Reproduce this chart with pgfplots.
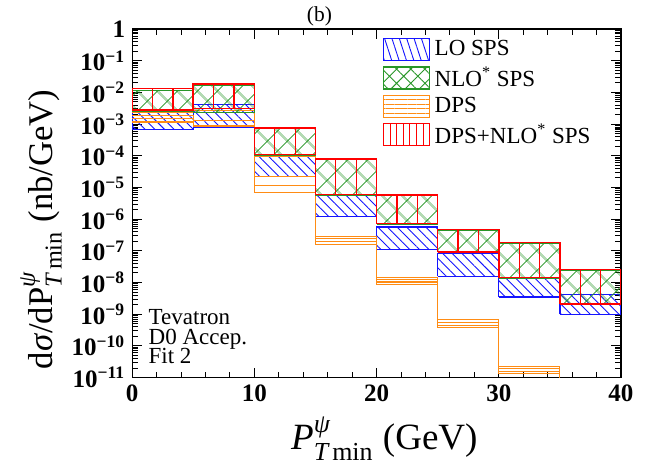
\documentclass[border=0pt]{standalone}
\usepackage{amsmath}
\usepackage{fontspec}
\setmainfont{Liberation Serif}
\usepackage{pgfplots}
\pgfplotsset{compat=1.18}
\usetikzlibrary{patterns.meta}
\definecolor{loblue}{RGB}{20,20,255}
\definecolor{nlogreen}{RGB}{40,150,40}
\definecolor{dpsorange}{RGB}{255,140,20}
\definecolor{sumred}{RGB}{255,0,0}
\newcommand{\fsz}[1]{\fontsize{#1}{#1}\selectfont}

\begin{document}
\begin{tikzpicture}
\begin{axis}[
    width=244pt, height=174pt, scale only axis,
    xmin=0, xmax=40,
    ymode=log, ymin=1e-11, ymax=1,
    clip mode=individual,
    axis line style={line width=0.7pt},
    tick style={black, line width=0.5pt},
    tick align=inside,
    major tick length=5pt, minor tick length=3pt,
    xtick={0,10,20,30,40},
    xticklabels={0,10,20,30,40},
    minor x tick num=4,
    ytickten={-11,...,0},
    yticklabels={10\textsuperscript{−11},10\textsuperscript{−10},10\textsuperscript{−9},10\textsuperscript{−8},10\textsuperscript{−7},10\textsuperscript{−6},10\textsuperscript{−5},10\textsuperscript{−4},10\textsuperscript{−3},10\textsuperscript{−2},10\textsuperscript{−1},1},
    ticklabel style={font=\bfseries\fsz{12.5}},
    unbounded coords=jump,
    legend image code/.code={\draw[#1] (0pt,-5.5pt) rectangle (23pt,5.5pt);},
    legend style={at={(0.5117,0.975)}, anchor=north west, draw=none, fill=none,
        inner sep=0pt, row sep=2.4pt, font=\fsz{11.5}, nodes={inner sep=0.5pt}},
    /tikz/every odd column/.append style={column sep=2pt},
    legend cell align=left,
]
% LO SPS
\addplot[draw=loblue, line width=0.7pt, pattern={Lines[angle=-45,distance=3.4pt,line width=0.45pt]}, pattern color=loblue, forget plot] coordinates {
(0,6.76e-4) (0,2.9e-3) (5,2.9e-3) (5,6.76e-4) (0,6.76e-4) (0,nan)
(5,8.16e-4) (5,4.17e-3) (10,4.17e-3) (10,8.16e-4) (5,8.16e-4) (5,nan)
(10,2.26e-5) (10,1.04e-4) (15,1.04e-4) (15,2.26e-5) (10,2.26e-5) (10,nan)
(15,1.23e-6) (15,5.66e-6) (20,5.66e-6) (20,1.23e-6) (15,1.23e-6) (15,nan)
(20,1.11e-7) (20,5.63e-7) (25,5.63e-7) (25,1.11e-7) (20,1.11e-7) (20,nan)
(25,1.56e-8) (25,8.13e-8) (30,8.13e-8) (30,1.56e-8) (25,1.56e-8) (25,nan)
(30,3.45e-9) (30,1.42e-8) (35,1.42e-8) (35,3.45e-9) (30,3.45e-9) (30,nan)
(35,9.8e-10) (35,4.21e-9) (40,4.21e-9) (40,9.8e-10) (35,9.8e-10)
};
% DPS
\addplot[const plot, dpsorange, line width=0.6pt, forget plot] coordinates {
(0,2.33e-3) (5,2.61e-3) (10,9.89e-5) (15,2.86e-7) (20,1.48e-8) (25,6.67e-10) (30,2.28e-11) (35,1e-13) (40,1e-13)};
\addplot[const plot, dpsorange, line width=0.6pt, forget plot] coordinates {
(0,1.82e-3) (5,1.33e-3) (10,2.26e-5) (15,2.39e-7) (20,1.25e-8) (25,5.47e-10) (30,1.92e-11) (35,1e-13) (40,1e-13)};
\addplot[const plot, dpsorange, line width=0.6pt, forget plot] coordinates {
(0,1.46e-3) (5,9.23e-4) (10,1.17e-5) (15,1.99e-7) (20,1.04e-8) (25,4.40e-10) (30,1.55e-11) (35,1e-13) (40,1e-13)};
\addplot[const plot, dpsorange, line width=0.6pt, forget plot] coordinates {
(0,1.17e-3) (5,8.16e-4) (10,6.89e-6) (15,1.60e-7) (20,8.70e-9) (25,3.72e-10) (30,1.31e-11) (35,1e-13) (40,1e-13)};
% NLO* SPS
\addplot[draw=nlogreen, line width=0.6pt, pattern={Hatch[angle=45,distance=7.4pt,line width=0.45pt]}, pattern color=nlogreen, forget plot] coordinates {
(0,2.6e-3) (0,1.12e-2) (5,1.12e-2) (5,2.6e-3) (0,2.6e-3) (0,nan)
(5,2.26e-3) (5,1.70e-2) (10,1.70e-2) (10,2.26e-3) (5,2.26e-3) (5,nan)
(10,1.05e-4) (10,7.4e-4) (15,7.4e-4) (15,1.05e-4) (10,1.05e-4) (10,nan)
(15,5.8e-6) (15,7.6e-5) (20,7.6e-5) (20,5.8e-6) (15,5.8e-6) (15,nan)
(20,7.0e-7) (20,5.5e-6) (25,5.5e-6) (25,7.0e-7) (20,7.0e-7) (20,nan)
(25,8.9e-8) (25,4.55e-7) (30,4.55e-7) (30,8.9e-8) (25,8.9e-8) (25,nan)
(30,1.38e-8) (30,1.77e-7) (35,1.77e-7) (35,1.38e-8) (30,1.38e-8) (30,nan)
(35,2.08e-9) (35,2.48e-8) (40,2.48e-8) (40,2.08e-9) (35,2.08e-9)
};
% DPS+NLO* SPS
\addplot[draw=sumred, line width=0.8pt, forget plot] coordinates {
(0,2.75e-3) (0,1.34e-2) (5,1.34e-2) (5,2.75e-3) (0,2.75e-3) (0,nan)
(5,3.11e-3) (5,1.83e-2) (10,1.83e-2) (10,3.11e-3) (5,3.11e-3) (5,nan)
(10,1.09e-4) (10,7.59e-4) (15,7.59e-4) (15,1.09e-4) (10,1.09e-4) (10,nan)
(15,5.96e-6) (15,7.78e-5) (20,7.78e-5) (20,5.96e-6) (15,5.96e-6) (15,nan)
(20,7.22e-7) (20,5.66e-6) (25,5.66e-6) (25,7.22e-7) (20,7.22e-7) (20,nan)
(25,9.14e-8) (25,4.66e-7) (30,4.66e-7) (30,9.14e-8) (25,9.14e-8) (25,nan)
(30,1.42e-8) (30,1.81e-7) (35,1.81e-7) (35,1.42e-8) (30,1.42e-8) (30,nan)
(35,2.14e-9) (35,2.54e-8) (40,2.54e-8) (40,2.14e-9) (35,2.14e-9)
};
\addplot[draw=sumred, line width=0.6pt, forget plot] coordinates {
(1.667,2.75e-3) (1.667,1.34e-2) (1.667,nan) (3.333,2.75e-3) (3.333,1.34e-2) (3.333,nan)
(6.667,3.11e-3) (6.667,1.83e-2) (6.667,nan) (8.333,3.11e-3) (8.333,1.83e-2) (8.333,nan)
(11.667,1.09e-4) (11.667,7.59e-4) (11.667,nan) (13.333,1.09e-4) (13.333,7.59e-4) (13.333,nan)
(16.667,5.96e-6) (16.667,7.78e-5) (16.667,nan) (18.333,5.96e-6) (18.333,7.78e-5) (18.333,nan)
(21.667,7.22e-7) (21.667,5.66e-6) (21.667,nan) (23.333,7.22e-7) (23.333,5.66e-6) (23.333,nan)
(26.667,9.14e-8) (26.667,4.66e-7) (26.667,nan) (28.333,9.14e-8) (28.333,4.66e-7) (28.333,nan)
(31.667,1.42e-8) (31.667,1.81e-7) (31.667,nan) (33.333,1.42e-8) (33.333,1.81e-7) (33.333,nan)
(36.667,2.14e-9) (36.667,2.54e-8) (36.667,nan) (38.333,2.14e-9) (38.333,2.54e-8)
};
% legend
\addlegendimage{draw=loblue, line width=0.6pt, pattern={Lines[angle=-72,distance=3.5pt,line width=0.45pt]}, pattern color=loblue}
\addlegendentry{LO SPS}
\addlegendimage{draw=nlogreen, line width=0.6pt, pattern={Hatch[angle=45,distance=5pt,line width=0.45pt]}, pattern color=nlogreen}
\addlegendentry{NLO\textsuperscript{*} SPS}
\addlegendimage{draw=dpsorange, line width=0.6pt, pattern={Lines[angle=0,distance=2.2pt,line width=0.45pt]}, pattern color=dpsorange}
\addlegendentry{DPS}
\addlegendimage{draw=sumred, line width=0.6pt, pattern={Lines[angle=90,distance=3.3pt,line width=0.45pt]}, pattern color=sumred}
\addlegendentry{DPS+NLO\textsuperscript{*} SPS}
% annotations
\node[anchor=base west, inner sep=0pt, font=\fsz{11.5}] at (rel axis cs:0.0328,0.152) {Tevatron};
\node[anchor=base west, inner sep=0pt, font=\fsz{11.5}] at (rel axis cs:0.0328,0.0948) {D0 Accep.};
\node[anchor=base west, inner sep=0pt, font=\fsz{11.5}] at (rel axis cs:0.0328,0.0394) {Fit 2};
\node[anchor=base, inner sep=0pt, font=\fsz{10.7}] at (rel axis cs:0.383,1.023) {(b)};
\node[anchor=base, inner sep=0pt, font=\fsz{18.5}] at (rel axis cs:0.516,-0.2069) {$\textit{P}^{\textit{ψ}}_{\textit{T}\,\text{min}}$ (GeV)};
\node[anchor=base, rotate=90, inner sep=0pt, font=\fsz{17.3}] at (rel axis cs:-0.164,0.425) {d\textit{σ}/d$\text{P}^{\textit{ψ}}_{\textit{T}\,\text{min}}$ (nb/GeV)};
\coordinate (bl) at (rel axis cs:-0.2705,-0.2529);
\coordinate (tr) at (rel axis cs:1.0533,1.0833);
\end{axis}
\pgfresetboundingbox
\path[use as bounding box] (bl) rectangle (tr);
\end{tikzpicture}
\end{document}
